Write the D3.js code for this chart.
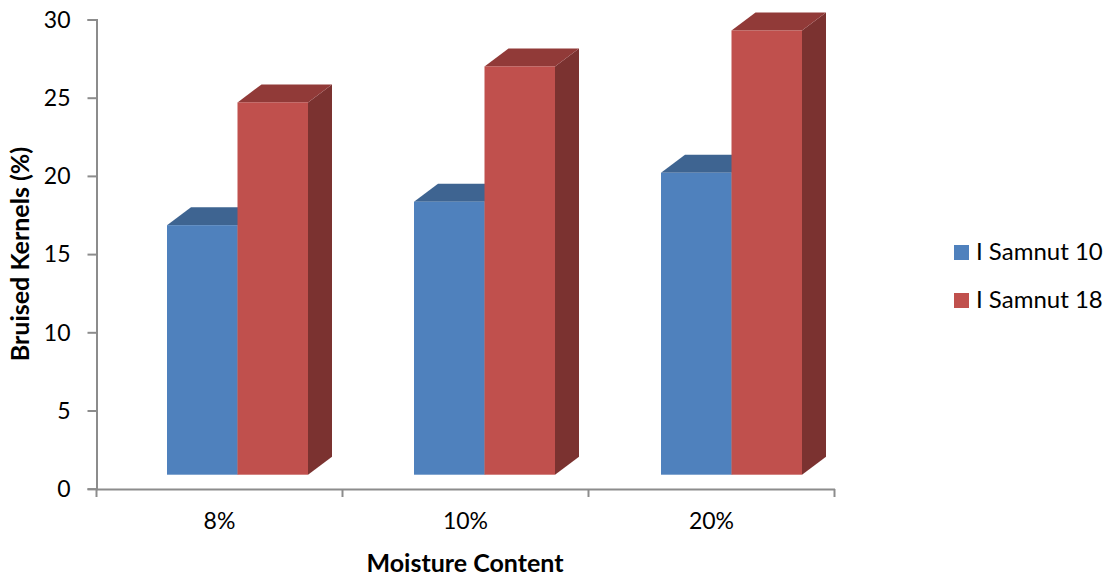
<!DOCTYPE html>
<html>
<head>
<meta charset="utf-8">
<script src="https://cdn.jsdelivr.net/npm/d3@7"></script>
<style>
  html, body { margin: 0; padding: 0; background: #fff; }
  svg { display: block; }
  text { font-family: Lato, "Open Sans", sans-serif; fill: #000; }
</style>
</head>
<body>
<svg id="chart" width="1112" height="577"></svg>
<script>
// Bruised kernels by moisture content for two groundnut varieties
const categories = ["8%", "10%", "20%"];
const seriesNames = ["I Samnut 10", "I Samnut 18"];
const samnut10 = [16.85, 18.35, 20.2];
const samnut18 = [24.7, 27.0, 29.3];
const valueTicks = [0, 5, 10, 15, 20, 25, 30];

const seriesValues = [samnut10, samnut18];
const frontColors = ["#4f81bd", "#c0504d"];
const topColors = ["#3e6491", "#913a38"];
const sideColors = ["#335377", "#7b3230"];

const svg = d3.select("#chart");

// The floor of the oblique bars runs slightly wider than the axis line
const xAxisScale = d3.scaleBand().domain(categories).range([96.5, 834.5]);
const xBars = d3.scaleBand().domain(categories).range([96.5, 837.5]);
const xSeries = d3.scaleBand().domain(seriesNames).range([70.5, 211.5]);
const y = d3.scaleLinear().domain([0, 30]).range([488.7, 19.5]);

// Oblique offset of the bar depth, and the lift of the bar feet above the floor line
const depthX = 24, depthY = 18, floorLift = 14;

// Bars: side and top faces first, then the front face, series by series
const bars = categories.flatMap((c, i) =>
  seriesNames.map((s, k) => ({ c, s, k, v: seriesValues[k][i] })));

const barG = svg.append("g").selectAll("g").data(bars).join("g");

barG.append("path")
  .attr("fill", d => sideColors[d.k])
  .attr("d", d => {
    const r = xBars(d.c) + xSeries(d.s) + xSeries.bandwidth();
    const t = y(d.v), b = y(0) - floorLift;
    return `M${r},${t}L${r + depthX},${t - depthY}L${r + depthX},${b - depthY}L${r},${b}Z`;
  });

barG.append("path")
  .attr("fill", d => topColors[d.k])
  .attr("d", d => {
    const l = xBars(d.c) + xSeries(d.s), r = l + xSeries.bandwidth();
    const t = y(d.v);
    return `M${l},${t}L${l + depthX},${t - depthY}L${r + depthX},${t - depthY}L${r},${t}Z`;
  });

barG.append("rect")
  .attr("fill", d => frontColors[d.k])
  .attr("x", d => xBars(d.c) + xSeries(d.s))
  .attr("width", xSeries.bandwidth())
  .attr("y", d => y(d.v))
  .attr("height", d => y(0) - floorLift - y(d.v));

// Axes
const axisColor = "#8c8c8c";

const yAxis = svg.append("g").attr("transform", "translate(96.5,0)")
  .call(d3.axisLeft(y).tickValues(valueTicks).tickSize(9).tickPadding(17).tickFormat(d3.format("d")));
yAxis.selectAll("text").style("font-size", "23px").attr("dy", "0.34em");

const xAxis = svg.append("g").attr("transform", "translate(0,489)")
  .call(d3.axisBottom(xAxisScale).tickSize(0).tickPadding(24));
xAxis.selectAll("text").style("font-size", "23px");

// Category boundary ticks on the horizontal axis
svg.append("g").selectAll("line")
  .data(categories.map(c => xAxisScale(c)).concat(xAxisScale.range()[1]))
  .join("line")
  .attr("x1", d => d).attr("x2", d => d)
  .attr("y1", 489).attr("y2", 497)
  .attr("stroke", axisColor).attr("stroke-width", 2);

svg.selectAll(".domain, .tick line").attr("stroke", axisColor).attr("stroke-width", 2);

// Axis titles
svg.append("text")
  .attr("x", 465).attr("y", 572)
  .attr("text-anchor", "middle")
  .style("font-size", "25px").style("font-weight", 700)
  .text("Moisture Content");

svg.append("text")
  .attr("transform", "translate(29,254) rotate(-90)")
  .attr("text-anchor", "middle")
  .style("font-size", "25px").style("font-weight", 700)
  .text("Bruised Kernels (%)");

// Legend
const legendY = d3.scalePoint().domain(seriesNames).range([252.5, 300.5]);
const legend = svg.append("g").selectAll("g").data(seriesNames).join("g")
  .attr("transform", d => `translate(954,${legendY(d)})`);
legend.append("rect")
  .attr("y", -7.5).attr("width", 15).attr("height", 15)
  .attr("fill", (d, i) => frontColors[i]);
legend.append("text")
  .attr("x", 22).attr("dy", "0.33em")
  .style("font-size", "24px")
  .text(d => d);
</script>
</body>
</html>
